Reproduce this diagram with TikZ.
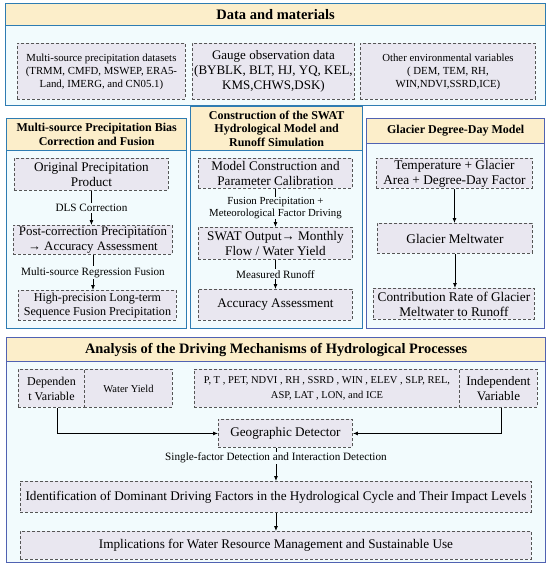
\documentclass[tikz,border=0pt]{standalone}
\usepackage{fontspec}
\setmainfont{Liberation Serif}
\usetikzlibrary{arrows.meta}
\definecolor{edgeteal}{RGB}{46,124,178}
\definecolor{edgeblue}{RGB}{80,98,178}
\definecolor{panelbg}{RGB}{242,251,253}
\definecolor{headbg}{RGB}{252,238,202}
\definecolor{boxbg}{RGB}{233,231,240}
\definecolor{boxline}{RGB}{85,85,85}

\begin{document}
\begin{tikzpicture}[x=1pt, y=-1pt,
	panel/.style={draw=edgeteal, line width=1.3pt, fill=panelbg, anchor=north west, inner sep=0pt},
	head/.style={draw=edgeteal, line width=1.3pt, fill=headbg, anchor=north west, inner sep=0pt, align=center, font=\bfseries\fontsize{12}{13.5}\selectfont},
	box/.style={draw=boxline, dash pattern=on 3pt off 2pt, line width=0.9pt, fill=boxbg, anchor=north west, inner sep=0pt, align=center, font=\fontsize{13.2}{15}\selectfont},
	lbl/.style={fill=panelbg, inner sep=1pt, align=center, font=\fontsize{11.2}{13}\selectfont},
	arr/.style={-{Latex[length=5pt,width=4pt]}, line width=0.8pt}]
	\useasboundingbox (0,0) rectangle (550,567);
	% data and materials
	\node[panel, minimum width=540pt, minimum height=102pt] (data) at (5,3) {};
	\node[head, minimum width=540pt, minimum height=22pt, font=\bfseries\fontsize{14.5}{16}\selectfont] (datah) at (5,3) {Data and materials};
	\node[box, minimum width=168pt, minimum height=56pt, font=\fontsize{10.8}{13}\selectfont] (prcp) at (17,43) {Multi-source precipitation datasets\\(TRMM, CMFD, MSWEP, ERA5-\\Land, IMERG, and CN05.1)};
	\node[box, minimum width=162pt, minimum height=56pt, font=\fontsize{13}{15}\selectfont] (gauge) at (192,43) {Gauge observation data\\(BYBLK, BLT, HJ, YQ, KEL,\\KMS,CHWS,DSK)};
	\node[box, minimum width=175pt, minimum height=56pt, font=\fontsize{10.8}{13}\selectfont] (envv) at (360,43) {Other environmental variables\\( DEM, TEM, RH,\\WIN,NDVI,SSRD,ICE)};
	% bias correction and fusion
	\node[panel, minimum width=180pt, minimum height=210pt] (fuse) at (6,118) {};
	\node[head, minimum width=180pt, minimum height=32pt] (fuseh) at (6,118) {Multi-source Precipitation Bias\\Correction and Fusion};
	\node[box, minimum width=154pt, minimum height=32pt] (orig) at (14,158) {Original Precipitation\\Product};
	\node[box, minimum width=159pt, minimum height=29pt, font=\fontsize{12.9}{14.5}\selectfont] (post) at (13,225) {Post-correction Precipitation\\→ Accuracy Assessment};
	\node[box, minimum width=158pt, minimum height=30pt, font=\fontsize{12.1}{14}\selectfont] (hpf) at (18,290) {High-precision Long-term\\Sequence Fusion Precipitation};
	\draw[arr] (orig.south) -- (orig.south |- post.north) node[lbl, midway] {DLS Correction};
	\draw[arr] (post.south) -- (post.south |- hpf.north) node[lbl, midway] {Multi-source Regression Fusion};
	% SWAT
	\node[panel, minimum width=172pt, minimum height=222pt] (swat) at (190,106) {};
	\node[head, minimum width=172pt, minimum height=44pt] (swath) at (190,106) {Construction of the SWAT\\Hydrological Model and\\Runoff Simulation};
	\node[box, minimum width=154pt, minimum height=30pt] (calib) at (198,158) {Model Construction and\\Parameter Calibration};
	\node[box, minimum width=154pt, minimum height=32pt] (sout) at (198,227) {SWAT Output→ Monthly\\Flow / Water Yield};
	\node[box, minimum width=154pt, minimum height=31pt] (acc) at (198,289) {Accuracy Assessment};
	\draw[arr] (calib) -- (sout) node[lbl, midway, inner sep=0pt, font=\fontsize{10.8}{12.3}\selectfont] {Fusion Precipitation +\\Meteorological Factor Driving};
	\draw[arr] (sout) -- (acc) node[lbl, midway] {Measured Runoff};
	% glacier
	\node[panel, draw=edgeblue, minimum width=178pt, minimum height=210pt] (glac) at (366,118) {};
	\node[head, draw=edgeblue, minimum width=178pt, minimum height=25pt] (glach) at (366,118) {Glacier Degree-Day Model};
	\node[box, minimum width=156pt, minimum height=30pt, font=\fontsize{13.3}{15}\selectfont] (tga) at (376,158) {Temperature + Glacier\\Area + Degree-Day Factor};
	\node[box, minimum width=155pt, minimum height=30pt, font=\fontsize{13.3}{15}\selectfont] (melt) at (377,223) {Glacier Meltwater};
	\node[box, minimum width=161pt, minimum height=31pt, font=\fontsize{13.3}{15}\selectfont] (rate) at (373,288) {Contribution Rate of Glacier\\Meltwater to Runoff};
	\draw[arr] (tga.south) -- (tga.south |- melt.north);
	\draw[arr] (melt.south) -- (melt.south |- rate.north);
	% driving mechanisms
	\node[panel, draw=edgeblue, minimum width=539pt, minimum height=225pt] (drive) at (6,337) {};
	\node[head, draw=edgeblue, minimum width=539pt, minimum height=24pt, font=\bfseries\fontsize{14.4}{16}\selectfont] (driveh) at (6,337) {Analysis of the Driving Mechanisms of Hydrological Processes};
	\node[box, minimum width=66pt, minimum height=38pt, font=\fontsize{12}{15}\selectfont] (dep) at (18,369) {Dependen\\t Variable};
	\node[box, minimum width=88pt, minimum height=38pt, font=\fontsize{10.5}{12}\selectfont] (wy) at (84,369) {Water Yield};
	\node[box, minimum width=265pt, minimum height=38pt, font=\fontsize{10.5}{15}\selectfont] (facs) at (194,369) {P, T , PET, NDVI , RH , SSRD , WIN , ELEV , SLP, REL,\\ASP, LAT , LON, and ICE};
	\node[box, minimum width=78pt, minimum height=38pt, font=\fontsize{13}{15}\selectfont] (indep) at (459,369) {Independent\\Variable};
	\node[box, minimum width=134pt, minimum height=28pt] (geo) at (218,419) {Geographic Detector};
	\node[box, minimum width=511pt, minimum height=31pt] (ident) at (20,481) {Identification of Dominant Driving Factors in the Hydrological Cycle and Their Impact Levels};
	\node[box, minimum width=511pt, minimum height=28pt] (impl) at (20,531) {Implications for Water Resource Management and Sustainable Use};
	\draw[arr] ([xshift=6pt]dep.south) |- (geo.west);
	\draw[arr] ([xshift=3pt]indep.south) |- (geo.east);
	\draw[arr] (geo.south -| ident.north) -- (ident.north) node[lbl, pos=0.3] {Single-factor Detection and Interaction Detection};
	\draw[arr] (ident) -- (impl);
\end{tikzpicture}
\end{document}
